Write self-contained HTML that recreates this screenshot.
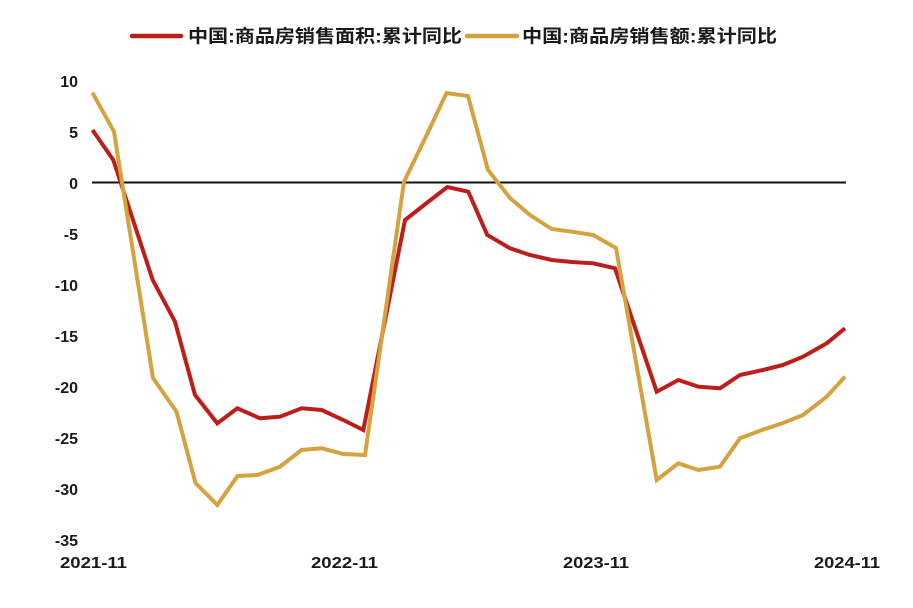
<!DOCTYPE html>
<html><head><meta charset="utf-8"><style>
html,body{margin:0;padding:0;background:#fff;}
svg{display:block;}
text{font-family:"Liberation Sans","Noto Sans CJK SC",sans-serif;fill:#1a1a1a;}
</style></head><body>
<svg width="913" height="608" viewBox="0 0 913 608" xmlns="http://www.w3.org/2000/svg">
<rect width="913" height="608" fill="#fff"/>
<!-- legend -->
<line x1="132" y1="36" x2="181" y2="36" stroke="#BE1E1A" stroke-width="4.5" stroke-linecap="round"/>
<text x="188" y="42.5" font-size="18" font-weight="bold" textLength="274" lengthAdjust="spacingAndGlyphs">中国:商品房销售面积:累计同比</text>
<line x1="467" y1="36" x2="517" y2="36" stroke="#D4A340" stroke-width="4.5" stroke-linecap="round"/>
<text x="522" y="42.5" font-size="18" font-weight="bold" textLength="255" lengthAdjust="spacingAndGlyphs">中国:商品房销售额:累计同比</text>
<!-- y labels -->
<g font-size="16" font-weight="bold" text-anchor="end">
<text x="78" y="87">10</text>
<text x="78" y="138">5</text>
<text x="78" y="189">0</text>
<text x="78" y="240">-5</text>
<text x="78" y="291">-10</text>
<text x="78" y="342">-15</text>
<text x="78" y="393">-20</text>
<text x="78" y="444">-25</text>
<text x="78" y="495">-30</text>
<text x="78" y="546">-35</text>
</g>
<!-- x labels -->
<g font-size="16" font-weight="bold">
<text x="60" y="568" textLength="67" lengthAdjust="spacingAndGlyphs">2021-11</text>
<text x="311" y="568" textLength="67" lengthAdjust="spacingAndGlyphs">2022-11</text>
<text x="563" y="568" textLength="66" lengthAdjust="spacingAndGlyphs">2023-11</text>
<text x="814" y="568" textLength="66" lengthAdjust="spacingAndGlyphs">2024-11</text>
</g>
<!-- zero line -->
<line x1="92" y1="182.5" x2="846" y2="182.5" stroke="#111" stroke-width="2"/>
<!-- red series -->
<polyline fill="none" stroke="#BE1E1A" stroke-width="4" stroke-linejoin="miter" stroke-miterlimit="3" points="92.5,130 113.3,160 152.7,280 175,321.7 195,395 217.3,423.3 237.3,408.3 260,418.3 280,416.7 301.7,408.3 321.7,410 343.3,420 363.3,430 405,220 426.7,203 447.3,187 468.3,191.7 487.3,235 510,248.3 530,255 551.7,260 572,262 593.3,263.3 615,268.3 656.7,391.7 678.3,380 698.3,386.7 720,388.3 740,375 763,370 783,365 803,356.7 826.7,343.3 845,328.3"/>
<!-- yellow series -->
<polyline fill="none" stroke="#D4A340" stroke-width="4" stroke-linejoin="miter" stroke-miterlimit="3" points="92.5,92.7 114,131.7 153,378 176.5,411.7 195.5,483 217.3,505 237.5,476 257.5,475 280,466.7 301.5,450 321.7,448.3 343.3,454 365,455 404,181.7 426.7,135 446.5,93 468,96 488,170 510,198 530,215 551.7,229 572,231.7 593.3,235 616,248 656.7,480 678.3,463.3 698.3,470 720,466.7 740,438.3 762,430 783,423 803,415 826.7,396.7 845,376.7"/>
</svg>
</body></html>
